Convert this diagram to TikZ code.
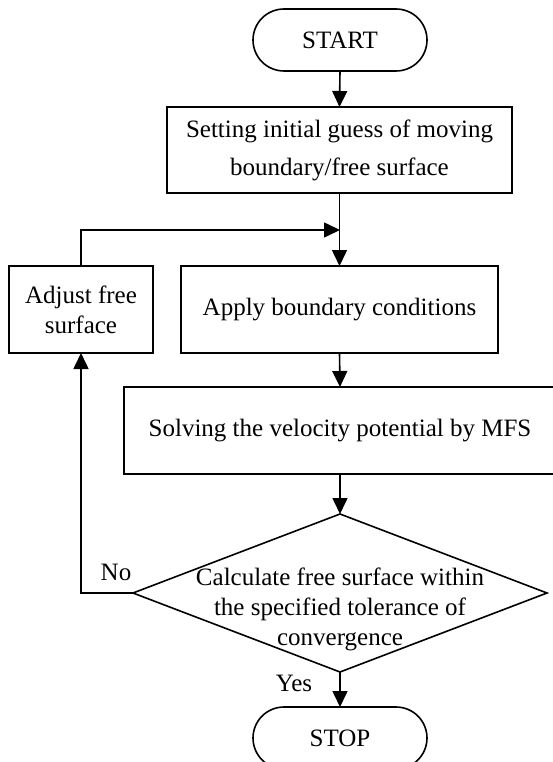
\documentclass[tikz,border=0pt]{standalone}
\usepackage{fontspec}
\setmainfont{Liberation Serif}
\usetikzlibrary{shapes.geometric,arrows.meta}
\begin{document}
\begin{tikzpicture}[x=1pt,y=-1pt,
  every node/.style={font=\fontsize{25}{30}\selectfont, inner sep=0pt, outer sep=0pt},
  box/.style={draw, line width=1.6pt, rectangle, align=center},
  pill/.style={draw, line width=1.6pt, rounded corners=31pt, minimum width=174pt, minimum height=62pt},
  decbox/.style={draw, line width=1.6pt, diamond, minimum width=414pt, minimum height=158pt},
  conn/.style={line width=1.6pt},
  arr/.style={conn, -{Triangle[length=16pt,width=15pt]}}]
\useasboundingbox (0,0) rectangle (552,762);
\fill[white] (0,0) rectangle (552,762);

\node[pill] (start) at (340,40) {START};
\node[box, minimum width=345pt, minimum height=86pt] (set) at (339.5,150)
  {Setting initial guess of moving\\[8pt]boundary/free surface};
\node[box, minimum width=317pt, minimum height=87pt] (apply) at (339.5,309.5)
  {Apply boundary conditions};
\node[box, minimum width=144pt, minimum height=87pt] (adjust) at (81,309.5)
  {Adjust free\\surface};
\node[box, minimum width=432pt, minimum height=87pt] (solve) at (340,430.5)
  {Solving the velocity potential by MFS};
\node[decbox] (dec) at (340,593) {};
\node[align=center] (dectext) at (340,609) {Calculate free surface within\\the specified tolerance of\\convergence};
\node[pill] (stop) at (340,738) {STOP};
\node (no) at (116,572) {No};
\node (yes) at (294,683) {Yes};

\coordinate (j) at (340,230);
\draw[arr] (start.south) -- (set.north);
\draw[arr] (set.south) -- (apply.north);
\draw[arr] (adjust.north) |- (j);
\draw[arr] (apply.south) -- (solve.north);
\draw[arr] (solve.south) -- (dec.north);
\draw[arr] (dec.west) -| (adjust.south);
\draw[arr] (dec.south) -- (stop.north);
\end{tikzpicture}
\end{document}
